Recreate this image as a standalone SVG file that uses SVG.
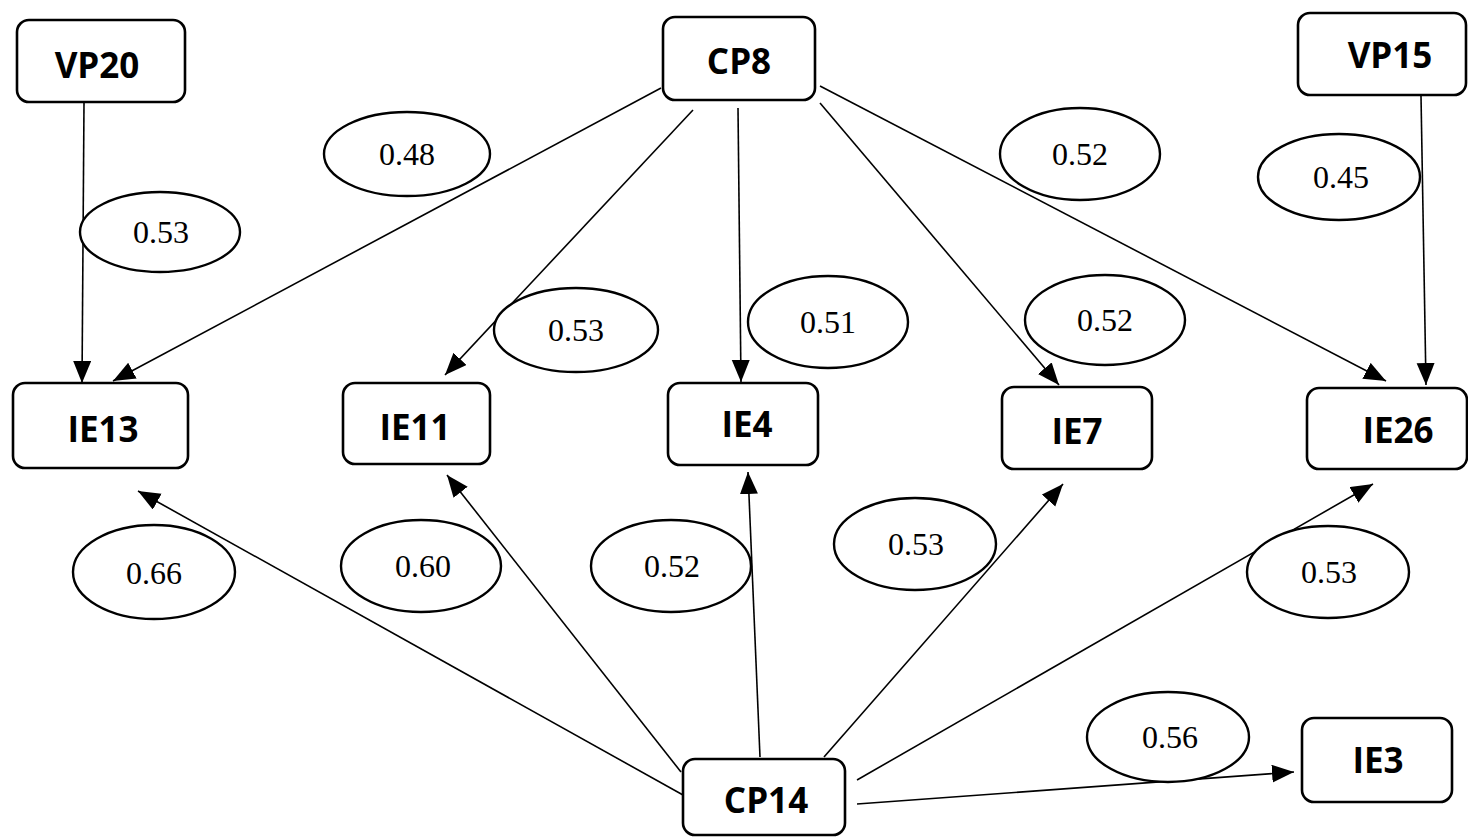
<svg xmlns="http://www.w3.org/2000/svg" width="1468" height="837" viewBox="0 0 1468 837">
  <defs>
    <marker id="arrow" markerUnits="userSpaceOnUse" markerWidth="24" markerHeight="20" refX="22" refY="9" orient="auto">
      <path d="M0,0 L22,9 L0,18 Z" fill="#000"/>
    </marker>
    <style>
      .box { fill: #fff; stroke: #000; stroke-width: 2.6; }
      .lbl { font-family: "Open Sans", "Liberation Sans", sans-serif; font-weight: 700; font-size: 35px; text-anchor: middle; fill: #000; }
      .coef { fill: #fff; stroke: #000; stroke-width: 2.4; }
      .num { font-family: "Liberation Serif", "Times New Roman", serif; font-size: 32px; text-anchor: middle; fill: #000; }
      .edge { fill: none; stroke: #000; stroke-width: 1.6; marker-end: url(#arrow); }
    </style>
  </defs>
  <rect width="1468" height="837" fill="#fff"/>

  <!-- path connectors -->
  <g id="connectors">
    <path class="edge" d="M84,103 L82,383"/>
    <path class="edge" d="M661,88 L113,381"/>
    <path class="edge" d="M693,110 L445,375"/>
    <path class="edge" d="M738,108 L741,382"/>
    <path class="edge" d="M820,103 L1059,385"/>
    <path class="edge" d="M820,86 L1386,381"/>
    <path class="edge" d="M1421,96 L1426,385"/>
    <path class="edge" d="M683,795 L138,491"/>
    <path class="edge" d="M681,772 L447,475"/>
    <path class="edge" d="M760,757 L748,472"/>
    <path class="edge" d="M824,757 L1063,484"/>
    <path class="edge" d="M857,780 L1373,484"/>
    <path class="edge" d="M857,804 L1294,772"/>
  </g>

  <!-- path coefficients -->
  <g id="coefficients">
    <g id="c-vp20-ie13"><ellipse class="coef" cx="160" cy="232" rx="80" ry="40"/><text class="num" x="161" y="243">0.53</text></g>
    <g id="c-cp8-ie13"><ellipse class="coef" cx="407" cy="154" rx="83" ry="42"/><text class="num" x="407" y="165">0.48</text></g>
    <g id="c-cp8-ie11"><ellipse class="coef" cx="576" cy="330" rx="82" ry="42"/><text class="num" x="576" y="341">0.53</text></g>
    <g id="c-cp8-ie4"><ellipse class="coef" cx="828" cy="322" rx="80" ry="46"/><text class="num" x="828" y="333">0.51</text></g>
    <g id="c-cp8-ie7"><ellipse class="coef" cx="1105" cy="320" rx="80" ry="45"/><text class="num" x="1105" y="331">0.52</text></g>
    <g id="c-cp8-ie26"><ellipse class="coef" cx="1080" cy="154" rx="80" ry="46"/><text class="num" x="1080" y="165">0.52</text></g>
    <g id="c-vp15-ie26"><ellipse class="coef" cx="1339" cy="177" rx="81" ry="43"/><text class="num" x="1341" y="188">0.45</text></g>
    <g id="c-cp14-ie13"><ellipse class="coef" cx="154" cy="572" rx="81" ry="47"/><text class="num" x="154" y="584">0.66</text></g>
    <g id="c-cp14-ie11"><ellipse class="coef" cx="421" cy="566" rx="80" ry="46"/><text class="num" x="423" y="577">0.60</text></g>
    <g id="c-cp14-ie4"><ellipse class="coef" cx="671" cy="566" rx="80" ry="46"/><text class="num" x="672" y="577">0.52</text></g>
    <g id="c-cp14-ie7"><ellipse class="coef" cx="915" cy="544" rx="81" ry="46"/><text class="num" x="916" y="555">0.53</text></g>
    <g id="c-cp14-ie26"><ellipse class="coef" cx="1328" cy="572" rx="81" ry="46"/><text class="num" x="1329" y="583">0.53</text></g>
    <g id="c-cp14-ie3"><ellipse class="coef" cx="1168" cy="737" rx="81" ry="45"/><text class="num" x="1170" y="748">0.56</text></g>
  </g>

  <!-- variable nodes -->
  <g id="VP20"><rect class="box" x="17" y="20" width="168" height="82" rx="12"/><text class="lbl" x="97" y="78">VP20</text></g>
  <g id="CP8"><rect class="box" x="663" y="17" width="152" height="83" rx="12"/><text class="lbl" x="739" y="74">CP8</text></g>
  <g id="VP15"><rect class="box" x="1298" y="13" width="168" height="82" rx="12"/><text class="lbl" x="1390" y="68">VP15</text></g>
  <g id="IE13"><rect class="box" x="13" y="383" width="175" height="85" rx="12"/><text class="lbl" x="103" y="442">IE13</text></g>
  <g id="IE11"><rect class="box" x="343" y="383" width="147" height="81" rx="12"/><text class="lbl" x="415" y="440">IE11</text></g>
  <g id="IE4"><rect class="box" x="668" y="383" width="150" height="82" rx="12"/><text class="lbl" x="747" y="437">IE4</text></g>
  <g id="IE7"><rect class="box" x="1002" y="387" width="150" height="82" rx="12"/><text class="lbl" x="1077" y="444">IE7</text></g>
  <g id="IE26"><rect class="box" x="1307" y="388" width="160" height="81" rx="12"/><text class="lbl" x="1398" y="443">IE26</text></g>
  <g id="CP14"><rect class="box" x="683" y="759" width="162" height="76" rx="12"/><text class="lbl" x="766" y="813">CP14</text></g>
  <g id="IE3"><rect class="box" x="1302" y="718" width="150" height="84" rx="12"/><text class="lbl" x="1378" y="773">IE3</text></g>
</svg>
